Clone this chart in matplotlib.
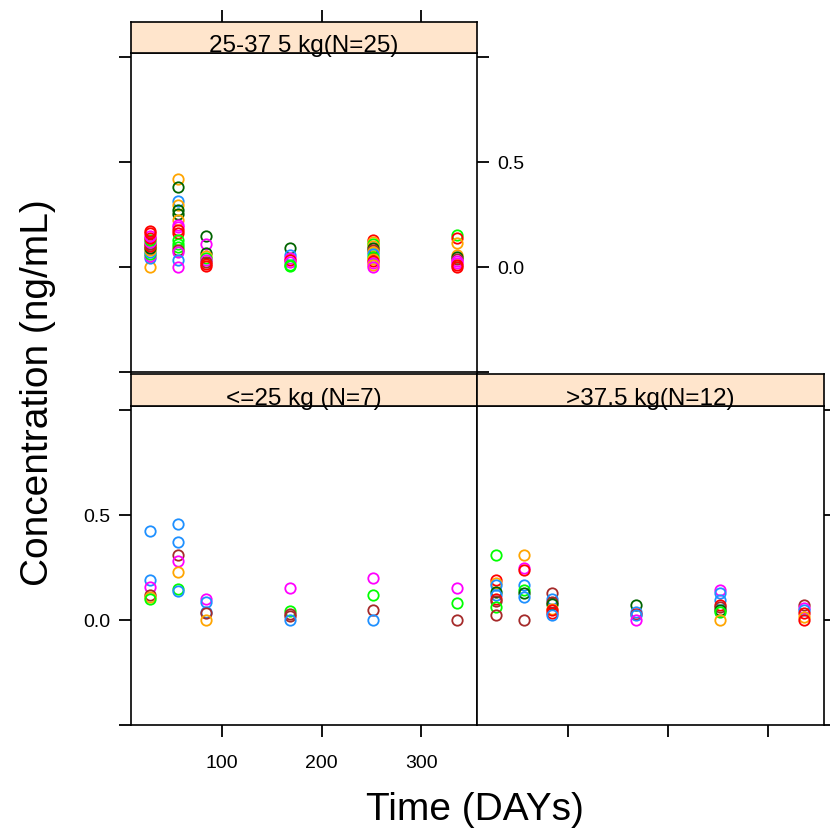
import matplotlib
matplotlib.use('Agg')
from matplotlib import pyplot as plt

plt.rcParams['font.family'] = ['Liberation Sans', 'DejaVu Sans']

#colours used for the subjects
orange = '#FFA500'
dgreen = '#006400'
blue = '#1E90FF'
magenta = '#FF00FF'
red = '#FF0000'
green = '#00FF00'
brown = '#A52A2A'

#25-37.5 kg panel
midDays = [28]*15 + [56]*18 + [84]*9 + [168]*7 + [252]*14 + [336]*10
midConc = [0.00, 0.045, 0.055, 0.06, 0.07, 0.08, 0.09, 0.10, 0.11, 0.12, 0.13, 0.14, 0.15, 0.16, 0.17,
           0.42, 0.38, 0.315, 0.295, 0.27, 0.255, 0.225, 0.20, 0.19, 0.175, 0.16, 0.13, 0.11, 0.095, 0.08, 0.07, 0.035, 0.0,
           0.148, 0.11, 0.066, 0.055, 0.045, 0.035, 0.025, 0.015, 0.005,
           0.092, 0.057, 0.045, 0.035, 0.025, 0.012, 0.005,
           0.13, 0.12, 0.11, 0.10, 0.09, 0.08, 0.07, 0.06, 0.05, 0.04, 0.03, 0.02, 0.01, 0.0,
           0.152, 0.138, 0.114, 0.057, 0.05, 0.04, 0.03, 0.02, 0.01, 0.0]
midCols = [orange, blue, magenta, green, blue, orange, dgreen, red, brown, magenta, green, red, magenta, red, red,
           orange, dgreen, blue, orange, dgreen, dgreen, orange, magenta, magenta, red, red, green, green, green, brown, magenta, blue, magenta,
           dgreen, magenta, dgreen, orange, green, magenta, brown, red, red,
           dgreen, blue, magenta, red, magenta, green, green,
           red, orange, green, orange, dgreen, brown, orange, blue, green, orange, red, magenta, orange, magenta,
           green, red, orange, orange, dgreen, brown, magenta, magenta, red, red]

#<=25 kg panel
lowDays = [28]*6 + [56]*7 + [84]*5 + [168]*5 + [252]*4 + [336]*3
lowConc = [0.426, 0.19, 0.158, 0.12, 0.11, 0.10,
           0.458, 0.37, 0.308, 0.28, 0.23, 0.148, 0.138,
           0.10, 0.085, 0.038, 0.034, 0.0,
           0.154, 0.042, 0.03, 0.02, 0.0,
           0.20, 0.12, 0.047, 0.0,
           0.154, 0.082, 0.0]
lowCols = [blue, blue, magenta, brown, orange, green,
           blue, blue, brown, magenta, orange, green, blue,
           magenta, blue, blue, brown, orange,
           magenta, green, brown, brown, blue,
           magenta, green, brown, blue,
           magenta, green, brown]

#>37.5 kg panel
highDays = [28]*10 + [56]*8 + [84]*8 + [168]*5 + [252]*8 + [336]*6
highConc = [0.31, 0.19, 0.175, 0.165, 0.135, 0.118, 0.10, 0.09, 0.062, 0.022,
            0.31, 0.25, 0.24, 0.167, 0.143, 0.13, 0.11, 0.0,
            0.131, 0.10, 0.085, 0.078, 0.054, 0.046, 0.035, 0.026,
            0.074, 0.038, 0.03, 0.026, 0.0,
            0.143, 0.127, 0.095, 0.07, 0.062, 0.046, 0.04, 0.0,
            0.074, 0.058, 0.046, 0.036, 0.014, 0.0]
highCols = [green, red, orange, blue, dgreen, blue, red, brown, green, brown,
            orange, magenta, red, blue, green, dgreen, blue, brown,
            brown, blue, brown, dgreen, orange, red, red, blue,
            dgreen, blue, red, blue, magenta,
            magenta, blue, blue, red, brown, dgreen, green, orange,
            brown, magenta, blue, red, orange, red]

stripText = ['25-37 5 kg(N=25)', '<=25 kg (N=7)', '>37.5 kg(N=12)']
xticks = [100, 200, 300]
yticks = [-0.5, 0.0, 0.5, 1.0]
ylabs = ['', '0.0', '0.5', '']

W, H = 830, 834
fig = plt.figure(figsize=(W/100, H/100), dpi=100)

def box(x0, y0, x1, y1):
    #pixel box (top-left origin) to figure fraction
    return [x0/W, 1 - y1/H, (x1-x0)/W, (y1-y0)/H]

tl = 8.6
def panel(rect, srect, days, conc, cols, label):
    ax = fig.add_axes(box(*rect))
    for d, c, col in zip(days, conc, cols):
        ax.plot(d, c, 'o', mfc='none', mec=col, ms=7.5, mew=1.3)
    ax.set_xlim(8.5, 356)
    ax.set_ylim(-0.5, 1.02)
    ax.set_xticks(xticks)
    ax.set_yticks(yticks)
    ax.tick_params(direction='out', length=tl, width=1.3, labelsize=14,
                   bottom=False, top=False, left=False, right=False,
                   labelbottom=False, labelleft=False)
    for s in ax.spines.values(): s.set_linewidth(1.2)
    sx = fig.add_axes(box(*srect), sharex=ax)
    sx.set_facecolor('#FFE5CC')
    sx.set_ylim(0, 1)
    sx.tick_params(bottom=False, left=False, labelbottom=False, labelleft=False,
                   direction='out', length=tl, width=1.3)
    for s in sx.spines.values(): s.set_linewidth(1.2)
    sx.text(0.5, 0.04, label, transform=sx.transAxes, ha='center', va='baseline', fontsize=17.5)
    return ax, sx

axT, sT = panel((131, 53, 477, 372), (131, 22, 477, 53), midDays, midConc, midCols, stripText[0])
axL, sL = panel((131, 406, 477, 725), (131, 374, 477, 406), lowDays, lowConc, lowCols, stripText[1])
axR, sR = panel((477, 406, 824, 725), (477, 374, 824, 406), highDays, highConc, highCols, stripText[2])

#top panel: unlabelled left ticks, labelled right ticks, top ticks on the strip
axT.tick_params(left=True, right=True, labelright=True, pad=6)
axT.set_yticklabels(ylabs)
sT.tick_params(top=True, labeltop=False)

#bottom left: labelled left and bottom
axL.tick_params(left=True, labelleft=True, bottom=True, labelbottom=True, pad=6)
axL.tick_params(axis='x', pad=13)
axL.set_yticklabels(ylabs)

#bottom right: unlabelled right and bottom ticks
axR.tick_params(right=True, bottom=True)

fig.text(38/W, 1 - 393/H, 'Concentration (ng/mL)', rotation=90, ha='center', va='center', fontsize=28)
fig.text(475/W, 1 - 810/H, 'Time (DAYs)', ha='center', va='center', fontsize=28)

fig.savefig('out.png', dpi=100)
